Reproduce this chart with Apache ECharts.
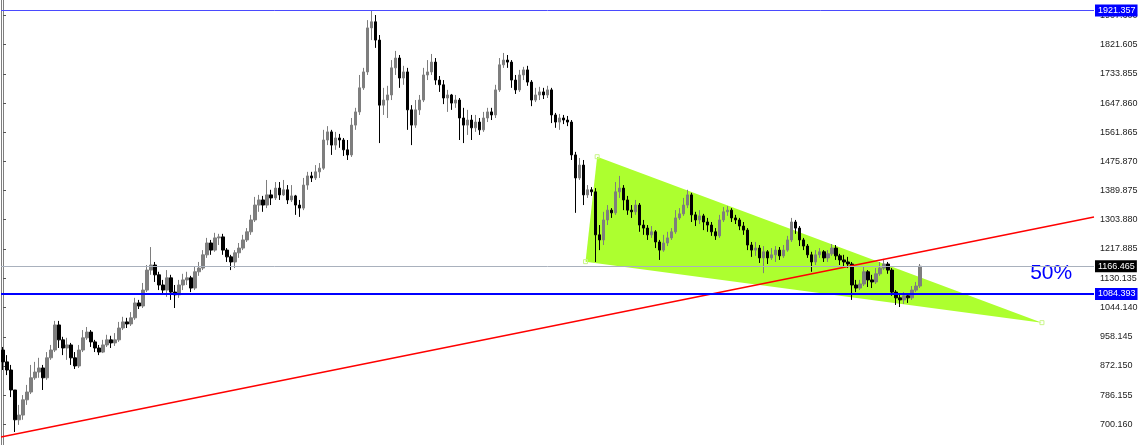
<!DOCTYPE html>
<html><head><meta charset="utf-8">
<script src="https://cdn.jsdelivr.net/npm/echarts@6/dist/echarts.min.js"></script>
<style>html,body{margin:0;padding:0;background:#fff;overflow:hidden}#c{width:1140px;height:445px}</style>
</head><body><div id="c"></div>
<script>
// weekly OHLC candles: [open, close, low, high]
const candles = [
[919,884,860,928],[884,860,845,904],[860,801,780,875],[801,713,677,786],[713,727,698,757],
[727,772,713,786],[772,795,757,816],[795,837,789,875],[837,854,831,884],[854,866,837,896],
[866,837,801,875],[837,896,831,913],[896,919,890,934],[919,993,913,1005],[993,949,925,1005],
[949,925,904,958],[925,934,890,955],[934,896,875,940],[896,872,863,913],[872,919,866,934],
[919,955,913,978],[955,972,949,987],[972,943,928,978],[943,925,913,949],[925,913,904,934],
[913,934,910,949],[934,949,928,964],[949,940,925,961],[940,949,931,969],[949,984,943,1002],
[984,1002,978,1017],[1002,996,984,1014],[996,1014,990,1031],[1014,1058,1008,1073],[1058,1049,1040,1067],
[1049,1096,1043,1117],[1096,1155,1090,1170],[1155,1170,1141,1223],[1170,1141,1120,1179],[1141,1111,1096,1150],
[1111,1096,1082,1126],[1096,1132,1076,1155],[1132,1090,1067,1141],[1090,1082,1043,1111],[1082,1111,1073,1126],
[1111,1126,1096,1144],[1126,1132,1111,1150],[1132,1102,1090,1138],[1102,1150,1096,1167],[1150,1161,1138,1179],
[1161,1200,1155,1214],[1200,1235,1191,1250],[1235,1214,1200,1244],[1214,1250,1209,1265],[1250,1253,1229,1262],
[1253,1214,1200,1262],[1214,1194,1179,1220],[1194,1179,1155,1200],[1179,1206,1161,1214],[1206,1220,1191,1235],
[1220,1244,1214,1259],[1244,1268,1238,1279],[1268,1303,1259,1318],[1303,1347,1297,1371],[1347,1362,1327,1377],
[1362,1347,1327,1374],[1347,1377,1338,1421],[1377,1368,1347,1392],[1368,1397,1362,1415],[1397,1377,1362,1415],
[1377,1392,1374,1421],[1392,1362,1350,1406],[1362,1374,1356,1406],[1374,1347,1318,1377],[1347,1338,1312,1362],
[1338,1406,1332,1427],[1406,1433,1392,1445],[1433,1427,1415,1445],[1427,1445,1421,1465],[1445,1456,1427,1471],
[1456,1539,1451,1569],[1539,1563,1524,1580],[1563,1524,1495,1569],[1524,1545,1510,1563],[1545,1539,1516,1557],
[1539,1510,1492,1545],[1510,1495,1480,1539],[1495,1583,1489,1604],[1583,1622,1569,1634],[1622,1693,1613,1731],
[1693,1740,1687,1752],[1740,1870,1731,1893],[1870,1888,1834,1920],[1888,1834,1811,1908],[1834,1642,1530,1849],
[1642,1657,1613,1693],[1657,1672,1604,1699],[1672,1752,1657,1775],[1752,1781,1731,1802],[1781,1722,1693,1790],
[1722,1740,1702,1758],[1740,1628,1569,1752],[1628,1583,1524,1642],[1583,1628,1575,1657],[1628,1657,1613,1672],
[1657,1731,1651,1752],[1731,1740,1716,1775],[1740,1769,1731,1793],[1769,1716,1702,1781],[1716,1702,1681,1728],
[1702,1663,1645,1716],[1663,1672,1622,1687],[1672,1648,1628,1675],[1648,1657,1634,1672],[1657,1604,1539,1663],
[1604,1583,1530,1634],[1583,1598,1554,1628],[1598,1575,1539,1613],[1575,1592,1563,1613],[1592,1569,1554,1604],
[1569,1604,1563,1622],[1604,1622,1592,1634],[1622,1613,1598,1634],[1613,1687,1604,1702],[1687,1761,1681,1781],
[1761,1775,1752,1796],[1775,1769,1752,1790],[1769,1716,1693,1775],[1716,1687,1675,1731],[1687,1731,1681,1746],
[1731,1746,1716,1755],[1746,1710,1699,1758],[1710,1657,1639,1716],[1657,1672,1651,1693],[1672,1681,1657,1696],
[1681,1672,1660,1693],[1672,1687,1663,1699],[1687,1613,1589,1693],[1613,1592,1575,1619],[1592,1604,1569,1616],
[1604,1598,1586,1613],[1598,1592,1580,1610],[1592,1495,1480,1598],[1495,1427,1324,1504],[1427,1465,1421,1486],
[1465,1377,1347,1480],[1377,1392,1368,1406],[1392,1386,1374,1400],[1386,1259,1179,1397],[1259,1244,1214,1288],
[1244,1303,1229,1327],[1303,1332,1288,1347],[1332,1324,1309,1338],[1324,1386,1318,1415],[1386,1397,1368,1433],
[1397,1362,1332,1406],[1362,1332,1318,1374],[1332,1327,1309,1347],[1327,1347,1318,1362],[1347,1288,1268,1353],
[1288,1279,1259,1303],[1279,1259,1244,1288],[1259,1268,1250,1285],[1268,1238,1220,1273],[1238,1214,1185,1244],
[1214,1235,1209,1259],[1235,1250,1226,1268],[1250,1268,1244,1279],[1268,1309,1262,1332],[1309,1321,1303,1338],
[1321,1347,1315,1368],[1347,1377,1338,1392],[1377,1318,1297,1383],[1318,1303,1285,1327],[1303,1315,1291,1332],
[1315,1297,1273,1321],[1297,1288,1268,1309],[1288,1268,1256,1297],[1268,1256,1244,1279],[1256,1303,1250,1318],
[1303,1327,1297,1341],[1327,1332,1315,1344],[1332,1309,1297,1338],[1309,1303,1291,1318],[1303,1285,1273,1309],
[1285,1273,1259,1297],[1273,1229,1214,1279],[1229,1214,1194,1238],[1214,1220,1197,1238],[1220,1191,1176,1229],
[1191,1209,1146,1226],[1209,1191,1173,1214],[1191,1200,1185,1220],[1200,1214,1179,1226],[1214,1197,1185,1223],
[1197,1214,1191,1229],[1214,1244,1209,1256],[1244,1297,1238,1309],[1297,1279,1262,1303],[1279,1244,1226,1285],
[1244,1226,1214,1250],[1226,1200,1191,1232],[1200,1179,1150,1209],[1179,1200,1170,1214],[1200,1209,1191,1220],
[1209,1191,1179,1214],[1191,1203,1179,1214],[1203,1220,1197,1232],[1220,1197,1185,1229],[1197,1185,1170,1203],
[1185,1179,1167,1200],[1179,1173,1161,1194],[1173,1111,1067,1179],[1111,1102,1090,1126],[1102,1114,1096,1126],
[1114,1150,1108,1167],[1150,1126,1105,1155],[1126,1120,1102,1141],[1120,1144,1114,1161],[1144,1161,1138,1179],
[1161,1173,1155,1188],[1173,1155,1144,1179],[1155,1090,1079,1161],[1090,1073,1052,1096],[1073,1067,1046,1085],
[1067,1079,1055,1090],[1079,1073,1058,1087],[1073,1096,1067,1108],[1096,1108,1090,1120],[1108,1166.465,1102,1173]
];
const slotCount = 273;              // bar slots across the plot (incl. empty future area)
const yTicks = [1907.600,1821.605,1733.855,1647.860,1561.865,1475.870,1389.875,1303.880,1217.885,1130.135,1044.140,958.145,872.150,786.155,700.160];
const yMin = 638.6, yMax = 1952.36;
const topLevel = 1921.357;
const bidLevel = 1166.465;
const supportLevel = 1084.393;
// overlay drawings in [bar index, price]
const triangle = [[148.4,1489.8],[145.5,1179.9],[259.5,999.8]];
const trendLine = [[-0.5,662.3],[272.5,1311.8]];
const noteText = '50%';
const notePos = [261.8,1146];

const categories = [];
for (let i = 0; i < slotCount; i++) categories.push(String(i));
const FONT = "'Liberation Sans',Arial,sans-serif";

const chart = echarts.init(document.getElementById('c'), null, {renderer:'canvas'});
chart.setOption({
  animation: false,
  backgroundColor: '#ffffff',
  grid: {left: 1, right: 46, top: 0, bottom: 0, containLabel: false, outerBoundsMode: 'none'},
  xAxis: [
    {type:'category', data: categories, boundaryGap: true, show: false},
    {type:'value', min: -0.5, max: slotCount - 0.5, show: false}
  ],
  yAxis: [
    {type:'value', position:'right', min: yMin, max: yMax, scale: true,
     axisLine:{show:true, lineStyle:{color:'#7f7f7f', width:1}},
     axisTick:{show:true, length:3, customValues: yTicks, lineStyle:{color:'#555'}},
     axisLabel:{show:true, customValues: yTicks, margin:6, color:'#222', fontSize:9, fontFamily: FONT,
       formatter: v => v.toFixed(3)},
     splitLine:{show:false}},
    {type:'value', position:'left', min: yMin, max: yMax, scale: true,
     axisLine:{show:true, lineStyle:{color:'#7f7f7f', width:1}},
     axisTick:{show:false}, axisLabel:{show:false}, splitLine:{show:false}}
  ],
  series: [
    {
      type:'custom', xAxisIndex:1, yAxisIndex:0, z:1, clip:false, silent:true,
      data:[[0,1000]],
      renderItem: function(params, api){
        const pts = triangle.map(p => api.coord(p));
        const children = [{type:'polygon', shape:{points: pts}, style:{fill:'#adff2f'}}];
        pts.forEach(p => children.push({type:'rect', shape:{x:p[0]-2, y:p[1]-2, width:4, height:4},
          style:{fill:'none', stroke:'#c9f58a', lineWidth:1}}));
        return {type:'group', children};
      }
    },
    {
      type:'candlestick', xAxisIndex:0, yAxisIndex:0, z:2, data: candles, barWidth: 3,
      itemStyle:{color:'#7e7e7e', color0:'#000000', borderColor:'#7e7e7e', borderColor0:'#000000', borderWidth:1},
      markLine:{
        silent:true, symbol:['none','none'], animation:false, precision:3,
        label:{show:true, position:'end', distance:1, fontFamily: FONT, fontSize:9, color:'#fff', padding:[2,2,1,3]},
        emphasis:{disabled:true},
        data:[
          {yAxis: topLevel, lineStyle:{color:'#4a4aff', width:1, type:'solid'},
           label:{backgroundColor:'#0000ff', formatter: topLevel.toFixed(3)}},
          {yAxis: bidLevel, lineStyle:{color:'#a9b1bd', width:1, type:'solid'},
           label:{backgroundColor:'#000000', formatter: bidLevel.toFixed(3)}},
          {yAxis: supportLevel, lineStyle:{color:'#0000ff', width:2, type:'solid'},
           label:{backgroundColor:'#0000ff', formatter: supportLevel.toFixed(3)}}
        ]
      }
    },
    {
      type:'custom', xAxisIndex:1, yAxisIndex:0, z:3, clip:false, silent:true,
      data:[[0,1000]],
      renderItem: function(params, api){
        const a = api.coord(trendLine[0]), b = api.coord(trendLine[1]);
        const n = api.coord(notePos);
        return {type:'group', children:[
          {type:'line', shape:{x1:a[0], y1:a[1], x2:b[0], y2:b[1]}, style:{stroke:'#ff0000', lineWidth:1.5}},
          {type:'text', x:n[0], y:n[1], style:{text: noteText, fill:'#0000ff', font:"21px 'Liberation Sans',Arial,sans-serif", align:'center', verticalAlign:'middle'}}
        ]};
      }
    }
  ]
});
</script>
</body></html>
